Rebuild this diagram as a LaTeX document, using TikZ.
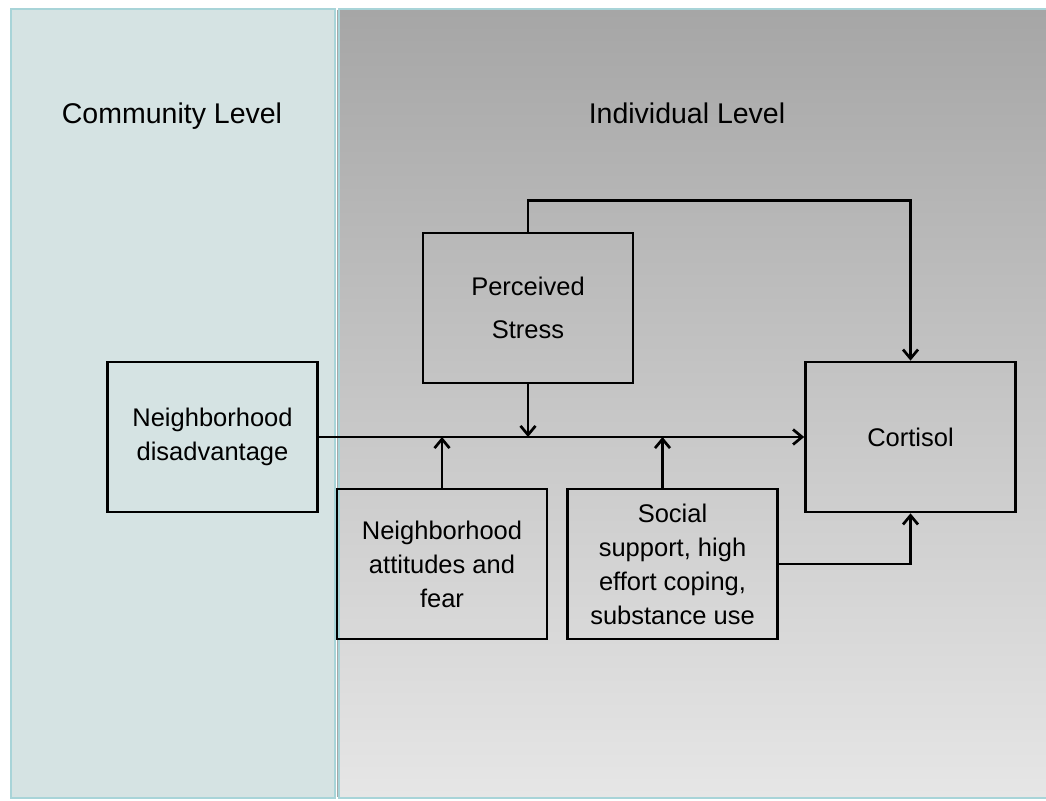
\documentclass[tikz,border=0pt]{standalone}
\usepackage{fontspec}
\setmainfont{Liberation Sans}
\usetikzlibrary{arrows.meta,calc}
\definecolor{leftfill}{HTML}{D5E3E3}
\definecolor{panelline}{HTML}{A8D4D8}
\definecolor{gtop}{HTML}{A6A6A6}
\definecolor{gbot}{HTML}{E6E6E6}
\begin{document}
\begin{tikzpicture}[x=1pt,y=-1pt,
  box/.style={draw=black, line width=2.7pt, minimum width=210pt, minimum height=150pt,
    inner sep=0pt, align=center, font=\fontsize{25.5}{34}\selectfont},
  heading/.style={anchor=base, inner sep=0pt, font=\fontsize{28.5}{34}\selectfont},
  conn/.style={line width=2.7pt, -{Straight Barb[length=9pt,width=15pt]}}]
\useasboundingbox (0,0) rectangle (1046,800);
\clip (0,0) rectangle (1046,800);
\fill[white] (0,0) rectangle (1046,800);
% panels
\fill[top color=gtop, bottom color=gbot] (339,10) rectangle (1050,797);
\draw[panelline, line width=2pt] (1050,9) -- (339,9) -- (339,798) -- (1050,798);
\draw[panelline, line width=2pt, fill=leftfill] (11,9) rectangle (335,798);
\draw[gray!70, line width=1pt] (337,10) -- (337,797);
% headings
\node[heading] (cl) at (172,123) {Community Level};
\node[heading] (il) at (687,123) {Individual Level};
% boxes
\node[box] (nd) at (212.5,437) {Neighborhood\\disadvantage};
\node[box, font=\fontsize{25.5}{43}\selectfont] (ps) at (528,308) {Perceived\\Stress};
\node[box] (na) at (442,564) {Neighborhood\\attitudes and\\fear};
\node[box] (ss) at (672.5,564) {Social\\support, high\\effort coping,\\substance use};
\node[box] (co) at (910.5,437) {Cortisol};
% connectors
\coordinate (ssT) at ($(ss.north)+(-10,0)$);
\draw[conn] (nd.east) -- (co.west);
\draw[conn] (ps.south) -- (ps.south |- nd.east);
\draw[conn] (na.north) -- (na.north |- nd.east);
\draw[conn] (ssT) -- (ssT |- nd.east);
\draw[conn] (ps.north) -- ++(0,-31) -| (co.north);
\draw[conn] (ss.east) -| (co.south);
\end{tikzpicture}
\end{document}
